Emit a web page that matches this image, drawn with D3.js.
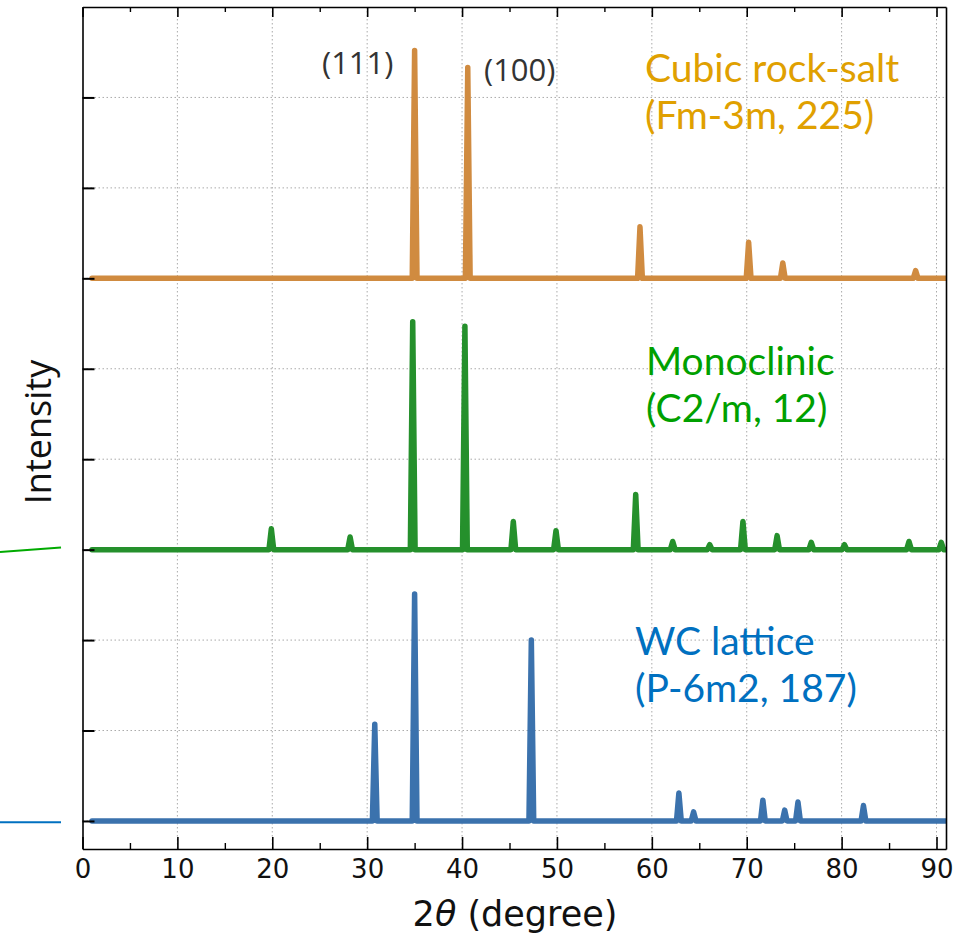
<!DOCTYPE html>
<html>
<head>
<meta charset="utf-8">
<script src="https://cdn.jsdelivr.net/npm/d3@7"></script>
<style>
  body { margin: 0; background: #fff; }
  svg { display: block; }
</style>
</head>
<body>
<div id="chart"></div>
<script>
// peak lists: [2theta, height above baseline]
const cubicPeaks = [[35.0, 2.52], [40.6, 2.33], [58.75, 0.57], [70.2, 0.40], [73.8, 0.17], [87.8, 0.085]];
const monoPeaks = [[19.9, 0.23], [28.2, 0.14], [34.8, 2.52], [40.3, 2.47], [45.4, 0.31], [49.9, 0.21],
    [58.3, 0.61], [62.2, 0.09], [66.1, 0.055], [69.6, 0.31], [73.2, 0.155], [76.8, 0.08],
    [80.3, 0.055], [87.1, 0.09], [90.5, 0.08]];
const wcPeaks = [[30.8, 1.07], [35.0, 2.51], [47.3, 2.0], [62.85, 0.31], [64.4, 0.1], [71.7, 0.23], [74.0, 0.12],
    [75.4, 0.21], [82.3, 0.17]];

const seriesOffsets = [0, 3, 6];
const xTicks = [0, 10, 20, 30, 40, 50, 60, 70, 80, 90];
const xMinor = [5, 15, 25, 35, 45, 55, 65, 75, 85];
const yTicks = [0, 1, 2, 3, 4, 5, 6, 7, 8];

const width = 978;
const height = 938;
const margin = { top: 7, right: 32, bottom: 89, left: 82.5 };

const svg = d3.select('#chart')
    .append('svg')
    .attr('width', width)
    .attr('height', height);

const x = d3.scaleLinear()
    .domain([0, 91])
    .range([margin.left, width - margin.right]);

const y = d3.scaleLinear()
    .domain([-0.31, 9.0])
    .range([height - margin.bottom, margin.top]);

// grid
svg.append('g')
    .selectAll('line')
    .data(xTicks.slice(1))
    .enter()
    .append('line')
    .attr('x1', d => x(d)).attr('x2', d => x(d))
    .attr('y1', margin.top).attr('y2', height - margin.bottom)
    .attr('stroke', '#aaa')
    .attr('stroke-width', 1)
    .attr('stroke-dasharray', '1.5,2.5');

svg.append('g')
    .selectAll('line')
    .data(yTicks)
    .enter()
    .append('line')
    .attr('x1', margin.left).attr('x2', width - margin.right)
    .attr('y1', d => y(d)).attr('y2', d => y(d))
    .attr('stroke', '#aaa')
    .attr('stroke-width', 1)
    .attr('stroke-dasharray', '1.5,2.5');

// build the polyline of each pattern from its peak list
const buildPattern = (peaks, offset) => {
    const pts = [[1.0, offset]];
    peaks.forEach(p => {
        pts.push([p[0] - 0.25, offset]);
        pts.push([p[0], offset + p[1]]);
        pts.push([p[0] + 0.25, offset]);
    });
    pts.push([91, offset]);
    return pts;
};

const line = d3.line()
    .x(d => x(d[0]))
    .y(d => y(d[1]));

const patterns = [
    { peaks: wcPeaks, offset: seriesOffsets[0], color: '#3b72ad' },
    { peaks: monoPeaks, offset: seriesOffsets[1], color: '#25902c' },
    { peaks: cubicPeaks, offset: seriesOffsets[2], color: '#d08b40' }
];

svg.append('defs')
    .append('clipPath')
    .attr('id', 'plotClip')
    .append('rect')
    .attr('x', margin.left)
    .attr('y', margin.top)
    .attr('width', width - margin.right - margin.left)
    .attr('height', height - margin.bottom - margin.top);

svg.append('g')
    .attr('clip-path', 'url(#plotClip)')
    .selectAll('path')
    .data(patterns)
    .enter()
    .append('path')
    .attr('d', d => line(buildPattern(d.peaks, d.offset)))
    .attr('fill', 'none')
    .attr('stroke', d => d.color)
    .attr('stroke-width', 5.5)
    .attr('stroke-linejoin', 'round')
    .attr('stroke-linecap', 'round');

// axes (ticks inward)
svg.append('g')
    .attr('transform', `translate(0,${height - margin.bottom})`)
    .call(d3.axisBottom(x).tickValues(xTicks).tickSizeInner(-12).tickSizeOuter(0).tickPadding(11))
    .call(g => g.select('.domain').attr('stroke-width', 1.6))
    .call(g => g.selectAll('.tick line').attr('stroke-width', 1.6))
    .call(g => g.selectAll('text')
        .attr('font-family', 'DejaVu Sans')
        .attr('font-size', 26)
        .attr('fill', '#111'));

svg.append('g')
    .attr('transform', `translate(0,${height - margin.bottom})`)
    .call(d3.axisBottom(x).tickValues(xMinor).tickSizeInner(-6).tickSizeOuter(0).tickFormat(''))
    .call(g => g.select('.domain').remove())
    .call(g => g.selectAll('.tick line').attr('stroke-width', 1.4));

svg.append('g')
    .attr('transform', `translate(0,${margin.top})`)
    .call(d3.axisTop(x).tickValues(xTicks).tickSizeInner(-10).tickSizeOuter(0).tickFormat(''))
    .call(g => g.select('.domain').attr('stroke-width', 1.6))
    .call(g => g.selectAll('.tick line').attr('stroke-width', 1.6));

svg.append('g')
    .attr('transform', `translate(0,${margin.top})`)
    .call(d3.axisTop(x).tickValues(xMinor).tickSizeInner(-5).tickSizeOuter(0).tickFormat(''))
    .call(g => g.select('.domain').remove())
    .call(g => g.selectAll('.tick line').attr('stroke-width', 1.4));

svg.append('g')
    .attr('transform', `translate(${margin.left},0)`)
    .call(d3.axisLeft(y).tickValues(yTicks).tickSizeInner(-12).tickSizeOuter(0).tickFormat(''))
    .call(g => g.select('.domain').attr('stroke-width', 1.6))
    .call(g => g.selectAll('.tick line').attr('stroke-width', 2));

svg.append('g')
    .attr('transform', `translate(${width - margin.right},0)`)
    .call(d3.axisRight(y).tickValues([]).tickSizeOuter(0))
    .call(g => g.select('.domain').attr('stroke-width', 1.6));

// axis titles
svg.append('text')
    .attr('transform', `translate(51,432) rotate(-90)`)
    .attr('text-anchor', 'middle')
    .attr('font-family', 'Open Sans')
    .attr('font-size', 36)
    .attr('fill', '#111')
    .text('Intensity');

const xTitle = svg.append('text')
    .attr('x', 515)
    .attr('y', 926)
    .attr('text-anchor', 'middle')
    .attr('font-family', 'DejaVu Sans')
    .attr('font-size', 35)
    .attr('fill', '#111');
xTitle.append('tspan').text('2');
xTitle.append('tspan').attr('font-style', 'italic').text('θ');
xTitle.append('tspan').text(' (degree)');

// peak labels
const peakLabels = [
    { text: '(111)', x: 322, y: 74 },
    { text: '(100)', x: 484, y: 81 }
];
svg.append('g')
    .selectAll('text')
    .data(peakLabels)
    .enter()
    .append('text')
    .attr('x', d => d.x)
    .attr('y', d => d.y)
    .attr('font-family', 'Open Sans')
    .attr('font-size', 31)
    .attr('fill', '#333')
    .text(d => d.text);

// phase labels
const phaseLabels = [
    { lines: ['Cubic rock-salt', '(Fm-3m, 225)'], x: 645, y: 82, color: '#e0a000' },
    { lines: ['Monoclinic', '(C2/m, 12)'], x: 646, y: 375, color: '#00a000' },
    { lines: ['WC lattice', '(P-6m2, 187)'], x: 635, y: 655, color: '#0070c0' }
];
phaseLabels.forEach(p => {
    svg.append('g')
        .selectAll('text')
        .data(p.lines)
        .enter()
        .append('text')
        .attr('x', p.x)
        .attr('y', (d, i) => p.y + i * 47)
        .attr('font-family', 'Lato')
        .attr('font-size', 39)
        .attr('fill', p.color)
        .text(d => d);
});

// leader lines outside the frame
svg.append('line')
    .attr('x1', 0).attr('y1', 552).attr('x2', 61).attr('y2', 547.5)
    .attr('stroke', '#00aa00').attr('stroke-width', 2);
svg.append('line')
    .attr('x1', 0).attr('y1', 822.3).attr('x2', 61).attr('y2', 822.3)
    .attr('stroke', '#0070c0').attr('stroke-width', 2);
</script>
</body>
</html>
